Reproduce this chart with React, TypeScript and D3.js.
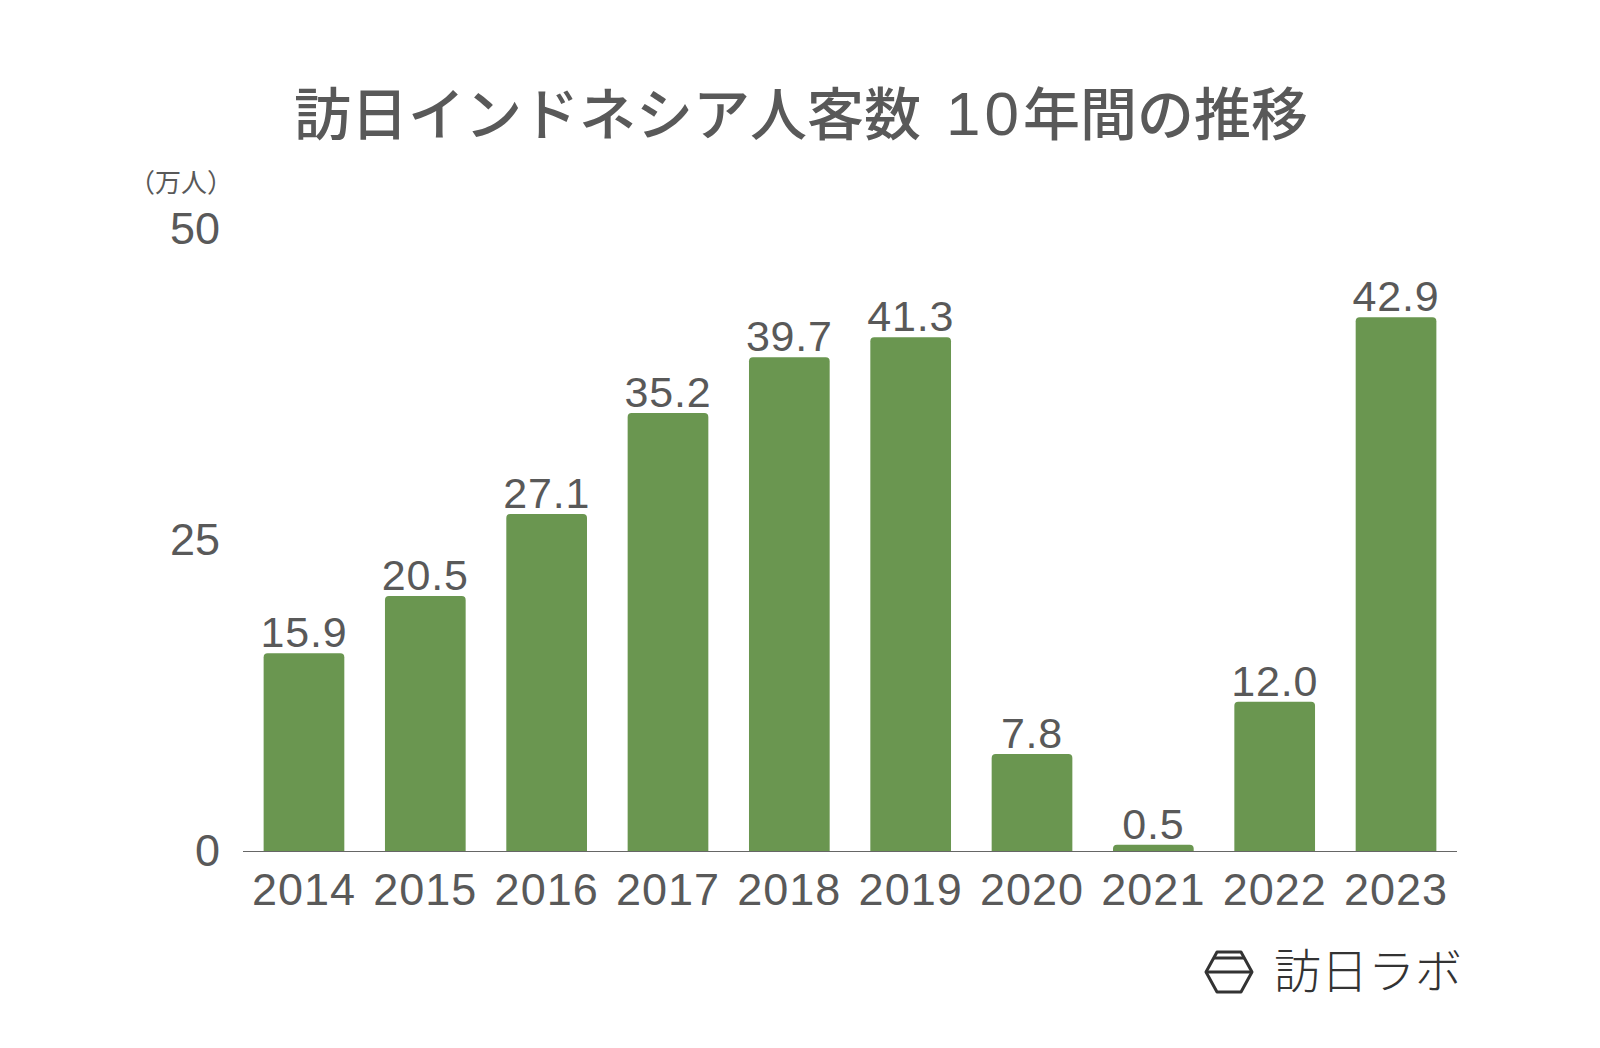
import React, { useEffect, useRef } from "react";
import * as d3 from "d3";

const years = ["2014", "2015", "2016", "2017", "2018", "2019", "2020", "2021", "2022", "2023"];
const visitors = [15.9, 20.5, 27.1, 35.2, 39.7, 41.3, 7.8, 0.5, 12.0, 42.9];
const yTicks = [0, 25, 50];
const titleHead = "訪日インドネシア人客数 ";
const titleSpan = "10";
const titleTail = "年間の推移";
const unitText = "（万人）";
const logoText = "訪日ラボ";

const jpFont = "'Noto Sans CJK JP', sans-serif";
const numFont = "'Liberation Sans', Arial, sans-serif";
const textColor = "#595959";

const App = () => {
    const svgRef = useRef<SVGSVGElement>(null);

    useEffect(() => {
        const svg = d3.select(svgRef.current);
        svg.selectAll("*").remove();

        const x = d3.scaleBand()
            .domain(years)
            .range([243, 1457])
            .paddingInner(0.335)
            .paddingOuter(0.17);

        const y = d3.scaleLinear()
            .domain([0, 50])
            .range([851, 229]);

        svg.append("rect").attr("width", 1600).attr("height", 1048).attr("fill", "#fff");

        const title = svg.append("text")
            .attr("x", 801)
            .attr("y", 135)
            .attr("text-anchor", "middle")
            .attr("font-family", jpFont)
            .attr("font-size", 57)
            .attr("font-weight", 500)
            .attr("fill", textColor);
        title.append("tspan").attr("xml:space", "preserve").text(titleHead);
        title.append("tspan")
            .attr("dx", 12)
            .attr("font-family", numFont)
            .attr("font-size", 62)
            .attr("letter-spacing", 4)
            .text(titleSpan);
        title.append("tspan").text(titleTail);

        svg.append("text")
            .attr("x", 233)
            .attr("y", 192)
            .attr("text-anchor", "end")
            .attr("font-family", jpFont)
            .attr("font-size", 26)
            .attr("fill", textColor)
            .text(unitText);

        // bars, slightly rounded at the top
        svg.append("g")
            .selectAll("path")
            .data(visitors)
            .join("path")
            .attr("fill", "#6a9650")
            .attr("d", (d, i) => {
                const x0 = x(years[i]) as number;
                const w = x.bandwidth();
                const top = y(d);
                const r = 4;
                return `M${x0},${y(0)}V${top + r}Q${x0},${top} ${x0 + r},${top}H${x0 + w - r}Q${x0 + w},${top} ${x0 + w},${top + r}V${y(0)}Z`;
            });

        svg.append("g")
            .selectAll("text")
            .data(visitors)
            .join("text")
            .attr("x", (d, i) => (x(years[i]) as number) + x.bandwidth() / 2)
            .attr("y", d => y(d) - 6)
            .attr("text-anchor", "middle")
            .attr("font-family", numFont)
            .attr("font-size", 43)
            .attr("letter-spacing", 0.8)
            .attr("fill", textColor)
            .text(d => d.toFixed(1));

        const xAxis = svg.append("g")
            .attr("transform", `translate(0,${y(0)})`)
            .call(d3.axisBottom(x).tickSize(0).tickPadding(22));
        xAxis.select(".domain").attr("stroke", "#666").attr("stroke-width", 1).attr("d", "M243,0.5H1457");
        xAxis.selectAll("text")
            .attr("font-family", numFont)
            .attr("font-size", 45)
            .attr("letter-spacing", 1)
            .attr("fill", textColor);

        const yAxis = svg.append("g")
            .attr("transform", "translate(220,0)")
            .call(d3.axisLeft(y).tickValues(yTicks).tickSize(0).tickPadding(0));
        yAxis.select(".domain").remove();
        yAxis.selectAll("text")
            .attr("font-family", numFont)
            .attr("font-size", 45)
            .attr("fill", textColor);

        // logo mark
        const logo = svg.append("g")
            .attr("fill", "none")
            .attr("stroke", "#333")
            .attr("stroke-width", 3)
            .attr("stroke-linejoin", "round");
        logo.append("path").attr("d", "M1217,952H1241L1252,972L1241,992H1217L1206,972Z");
        logo.append("path").attr("d", "M1213,958H1245M1206,972H1252");

        svg.append("text")
            .attr("x", 1274)
            .attr("y", 988)
            .attr("font-family", jpFont)
            .attr("font-weight", 300)
            .attr("font-size", 47)
            .attr("fill", "#333")
            .text(logoText);
    }, []);

    return <svg ref={svgRef} width={1600} height={1048} style={{ position: "absolute", left: 0, top: 0 }}></svg>;
};

export default App;
